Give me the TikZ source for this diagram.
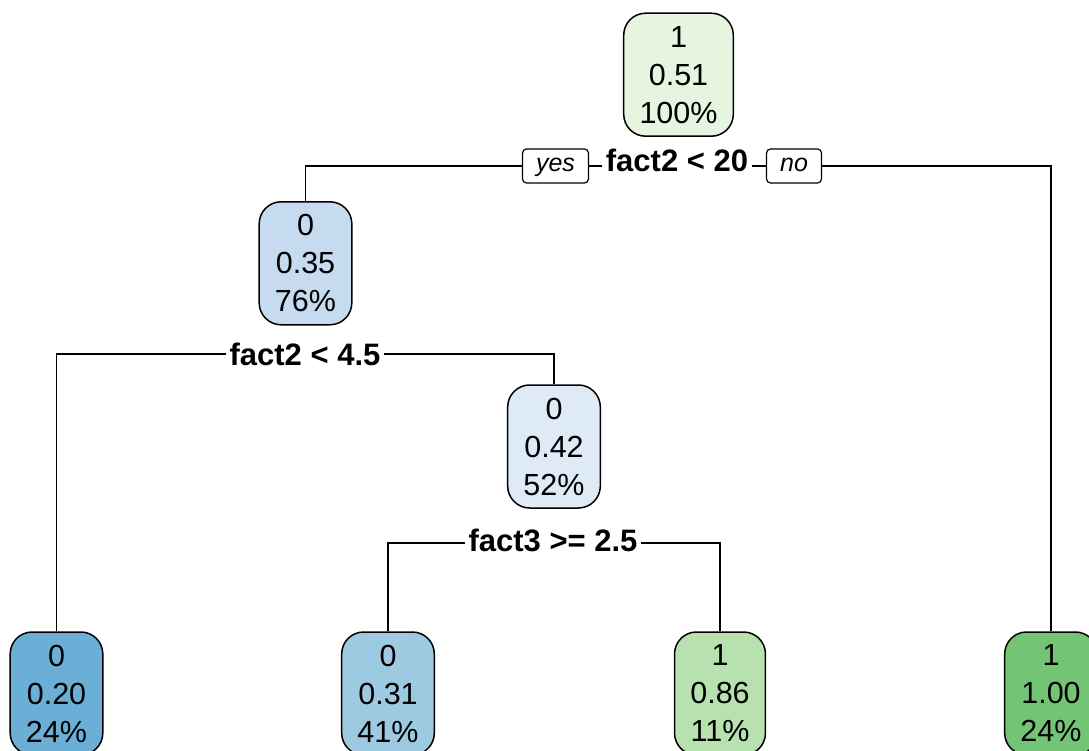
\documentclass[tikz,border=0pt]{standalone}
\usepackage{fontspec}
\setmainfont{Liberation Sans}
\definecolor{cA}{HTML}{E5F5E0}
\definecolor{cB}{HTML}{C6DBEF}
\definecolor{cC}{HTML}{DEEBF7}
\definecolor{cD}{HTML}{6BAED6}
\definecolor{cE}{HTML}{9ECAE1}
\definecolor{cF}{HTML}{B7E2B0}
\definecolor{cG}{HTML}{74C476}
\tikzset{
  leaf/.style={draw=black, line width=1.5pt, rounded corners=22pt, align=center,
    font=\fontsize{30.5}{38}\selectfont, inner xsep=15.8pt, inner ysep=0pt,
    minimum height=123pt},
  edge/.style={line width=1.4pt},
  splitlab/.style={fill=white, font=\bfseries\fontsize{31}{37}\selectfont,
    inner xsep=4pt, inner ysep=2pt},
  yesno/.style={draw=black, fill=white, rounded corners=4pt, line width=1.2pt,
    font=\itshape\fontsize{25}{30}\selectfont, inner sep=0pt,
    text height=18pt, text depth=6pt, minimum height=34pt}
}
\begin{document}
\begin{tikzpicture}[x=1pt,y=-1pt]
\clip (0,0) rectangle (1089,751);
\node[leaf, fill=cA] (nA) at (678.5,74.7) {1\\0.51\\100\%};
\node[leaf, fill=cB] (nB) at (305.5,263.3) {0\\0.35\\76\%};
\node[leaf, fill=cC] (nC) at (554,446.5) {0\\0.42\\52\%};
\node[leaf, fill=cD] (nD) at (56.5,693.5) {0\\0.20\\24\%};
\node[leaf, fill=cE] (nE) at (388,693.5) {0\\0.31\\41\%};
\node[leaf, fill=cF] (nF) at (720,693.5) {1\\0.86\\11\%};
\node[leaf, fill=cG] (nG) at (1051,693.5) {1\\1.00\\24\%};
\coordinate (j1) at (677,166);
\coordinate (j2) at (305,354);
\coordinate (j3) at (553,543);
\draw[edge] (nB.north) |- (j1) -| (nG.north);
\draw[edge] (nD.north) |- (j2) -| (nC.north);
\draw[edge] (nE.north) |- (j3) -| (nF.north);
\node[splitlab, anchor=base] (s1) at (677,172) {fact2 < 20};
\node[yesno, minimum width=66pt] (yes) at (555.5,166) {yes};
\node[yesno, minimum width=55pt] (no) at (794,166) {no};
\node[splitlab, anchor=base] (s2) at (305,365) {fact2 < 4.5};
\node[splitlab, anchor=base] (s3) at (553,551.7) {fact3 >= 2.5};
\end{tikzpicture}
\end{document}
